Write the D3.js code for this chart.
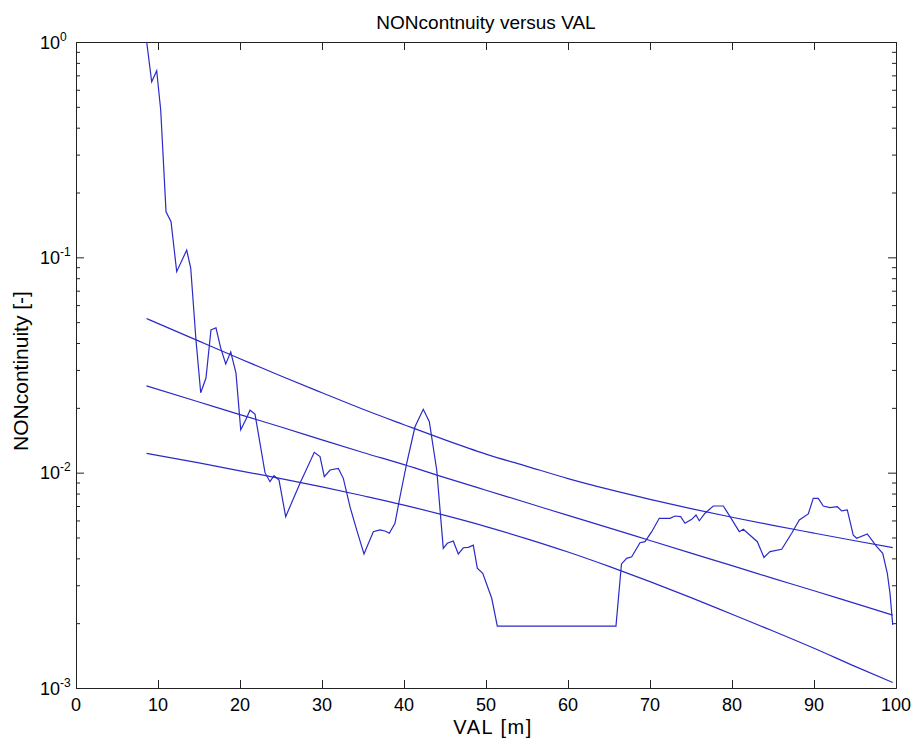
<!DOCTYPE html>
<html>
<head>
<meta charset="utf-8">
<script src="https://cdn.jsdelivr.net/npm/d3@7"></script>
<style>
  body { margin: 0; background: #fff; }
  text { font-family: "Liberation Sans", Arial, sans-serif; fill: #000; }
</style>
</head>
<body>
<div id="chart"></div>
<script>
// measured curve
const valX = [8.62, 9.23, 9.84, 10.33, 10.98, 11.59, 12.28, 13.50, 13.99, 14.63,
  15.21, 15.85, 16.46, 17.07, 17.65, 18.26, 18.87, 19.51, 20.09, 20.70,
  21.22, 21.83, 23.05, 23.66, 24.15, 24.76, 25.57, 27.32, 29.06, 29.76,
  30.28, 30.98, 31.99, 32.60, 33.41, 34.23, 35.12, 36.26, 37.07, 37.68,
  38.21, 38.90, 39.51, 40.33, 41.34, 42.35, 43.09, 43.99, 44.79, 45.28,
  46.01, 46.62, 47.23, 47.84, 48.45, 48.94, 49.60, 50.70, 51.38, 65.85,
  66.52, 67.16, 67.77, 68.78, 69.39, 70.21, 71.13, 72.44, 73.05, 73.74,
  74.27, 75.09, 75.61, 76.01, 76.71, 77.72, 78.94, 79.76, 80.89, 81.38,
  83.09, 83.90, 84.63, 86.06, 87.28, 88.21, 89.30, 89.91, 90.52, 91.13,
  91.95, 92.84, 93.38, 94.06, 94.79, 95.21, 96.50, 97.65, 98.38, 98.94,
  99.27, 99.60]
const nonCont = [1.0, 0.654, 0.736, 0.483, 0.1628, 0.1464, 0.0858, 0.1081, 0.0892, 0.0413,
  0.0235, 0.0275, 0.0460, 0.0471, 0.0379, 0.0320, 0.0364, 0.0290, 0.0158, 0.0176,
  0.0195, 0.0187, 0.0100, 0.00908, 0.00968, 0.00924, 0.00625, 0.00893, 0.01243, 0.01187,
  0.00958, 0.01029, 0.01047, 0.00941, 0.00695, 0.00542, 0.00419, 0.00532, 0.00542, 0.00536,
  0.00523, 0.00582, 0.00773, 0.01105, 0.01634, 0.01969, 0.01724, 0.01029, 0.00445, 0.00470,
  0.00482, 0.00419, 0.00448, 0.00450, 0.00461, 0.00360, 0.00341, 0.00261, 0.00194, 0.00194,
  0.00377, 0.00400, 0.00407, 0.00473, 0.00478, 0.00532, 0.00614, 0.00614, 0.00629, 0.00625,
  0.00582, 0.00607, 0.00636, 0.00598, 0.00648, 0.00700, 0.00700, 0.00625, 0.00532, 0.00546,
  0.00478, 0.00404, 0.00430, 0.00441, 0.00523, 0.00603, 0.00643, 0.00760, 0.00760, 0.00700,
  0.00688, 0.00695, 0.00664, 0.00671, 0.00513, 0.00496, 0.00519, 0.00453, 0.00422, 0.00341,
  0.00275, 0.00196]

// fit line and its two bands
const bandX = [8.6, 15, 20, 25, 30, 35, 40, 45, 50, 55, 60, 65, 70, 75, 80, 85, 90, 95, 99.6]
const upper = [0.0520, 0.0408, 0.0338, 0.0281, 0.0235, 0.0197, 0.0167, 0.0142, 0.0122, 0.0107,
  0.00939, 0.00836, 0.00752, 0.00681, 0.00621, 0.00569, 0.00524, 0.00483, 0.00449]
const fit = [0.0253, 0.0213, 0.0186, 0.0163, 0.0142, 0.0124, 0.0109, 0.00949, 0.00829, 0.00725,
  0.00633, 0.00554, 0.00484, 0.00423, 0.00370, 0.00323, 0.00283, 0.00247, 0.00218]
const lower = [0.0123, 0.0111, 0.0102, 0.00939, 0.00859, 0.00781, 0.00707, 0.00633, 0.00562, 0.00493,
  0.00428, 0.00367, 0.00312, 0.00263, 0.00220, 0.00184, 0.00153, 0.00126, 0.00106]

const xTicks = [0, 10, 20, 30, 40, 50, 60, 70, 80, 90, 100]
const yTicks = [1e-3, 1e-2, 1e-1, 1]
const yExp = ["-3", "-2", "-1", "0"]

const W = 915, H = 740
const mLeft = 76, mRight = 896, mTop = 42, mBottom = 688
const lineColor = "#2a2ac8"

const svg = d3.select("#chart").append("svg")
  .attr("width", W).attr("height", H)

const x = d3.scaleLinear().domain([0, 100]).range([mLeft, mRight])
const y = d3.scaleLog().domain([1e-3, 1]).range([mBottom, mTop])

const yMinor = []
for (let d = -3; d < 0; d++) {
  for (let k = 2; k <= 9; k++) yMinor.push(k * Math.pow(10, d))
}

svg.append("clipPath").attr("id", "plot")
  .append("rect")
  .attr("x", mLeft).attr("y", mTop)
  .attr("width", mRight - mLeft).attr("height", mBottom - mTop)

// axes box with inward ticks on all four sides
function styleAxis(g) {
  g.selectAll("path, line").attr("stroke", "#222").attr("stroke-width", 1)
  g.selectAll("text").remove()
}
svg.append("g").attr("transform", `translate(0,${mBottom})`)
  .call(d3.axisBottom(x).tickValues(xTicks).tickSize(-8).tickSizeOuter(0))
  .call(styleAxis)
svg.append("g").attr("transform", `translate(0,${mTop})`)
  .call(d3.axisTop(x).tickValues(xTicks).tickSize(-8).tickSizeOuter(0))
  .call(styleAxis)
svg.append("g").attr("transform", `translate(${mLeft},0)`)
  .call(d3.axisLeft(y).tickValues(yTicks).tickSize(-8).tickSizeOuter(0))
  .call(styleAxis)
svg.append("g").attr("transform", `translate(${mRight},0)`)
  .call(d3.axisRight(y).tickValues(yTicks).tickSize(-8).tickSizeOuter(0))
  .call(styleAxis)
svg.append("g").attr("transform", `translate(${mLeft},0)`)
  .call(d3.axisLeft(y).tickValues(yMinor).tickSize(-4).tickSizeOuter(0))
  .call(styleAxis)
svg.append("g").attr("transform", `translate(${mRight},0)`)
  .call(d3.axisRight(y).tickValues(yMinor).tickSize(-4).tickSizeOuter(0))
  .call(styleAxis)

// tick labels
svg.append("g").selectAll("text")
  .data(xTicks)
  .join("text")
  .attr("x", d => x(d))
  .attr("y", mBottom + 23)
  .attr("text-anchor", "middle")
  .attr("font-size", 18)
  .text(d => d)

const yl = svg.append("g").selectAll("text")
  .data(yTicks)
  .join("text")
  .attr("x", 40)
  .attr("y", d => y(d) + 6.5)
  .attr("font-size", 18)
yl.append("tspan").text("10")
yl.append("tspan")
  .attr("font-size", 12)
  .attr("dy", -8)
  .text((d, i) => yExp[i])

// lines
const line = d3.line().x(d => x(d[0])).y(d => y(d[1]))
const bandLine = d3.line().x(d => x(d[0])).y(d => y(d[1])).curve(d3.curveMonotoneX)

const plot = svg.append("g").attr("clip-path", "url(#plot)")
  .attr("fill", "none").attr("stroke", lineColor).attr("stroke-width", 1.2)

plot.append("path").attr("d", line(valX.map((v, i) => [v, nonCont[i]])))
;[upper, fit, lower].forEach(s => {
  plot.append("path").attr("d", bandLine(bandX.map((v, i) => [v, s[i]])))
})

// titles
svg.append("text")
  .attr("x", (mLeft + mRight) / 2).attr("y", 29)
  .attr("text-anchor", "middle").attr("font-size", 19)
  .text("NONcontnuity versus VAL")
svg.append("text")
  .attr("x", 493).attr("y", 734)
  .attr("text-anchor", "middle").attr("font-size", 20)
  .attr("letter-spacing", 1.5)
  .text("VAL [m]")
svg.append("text")
  .attr("transform", `translate(28,${(mTop + mBottom) / 2 + 6}) rotate(-90)`)
  .attr("text-anchor", "middle").attr("font-size", 21)
  .text("NONcontinuity [-]")
</script>
</body>
</html>
